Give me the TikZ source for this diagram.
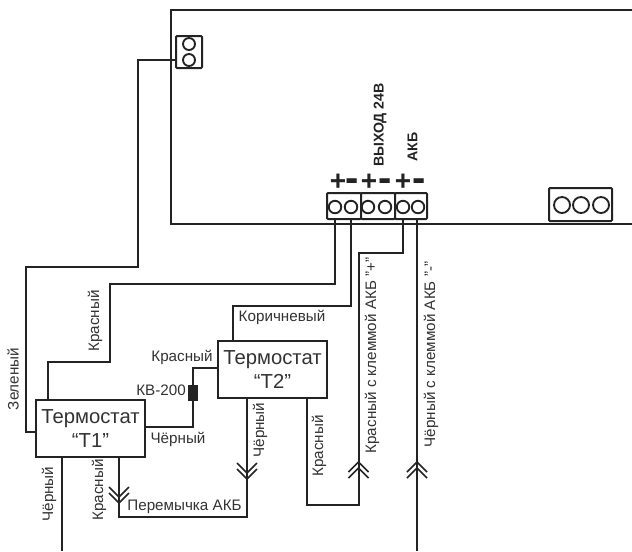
\documentclass[tikz,border=0pt]{standalone}
\usepackage{fontspec}
\setmainfont{Liberation Sans}
\definecolor{ink}{HTML}{232323}
\definecolor{txt}{HTML}{333333}
\tikzset{
  x=0.75pt,y=-0.75pt,
  wire/.style={draw=ink,line width=1.5pt,line join=miter},
  thinwire/.style={draw=ink,line width=1.35pt},
  term/.style={circle,draw=ink,line width=1.4pt,inner sep=0pt,minimum size=#1*0.75pt},
  block/.style={rectangle,draw=ink,line width=1.5pt,inner sep=0pt,rounded corners=0.8pt},
  thermo/.style={rectangle,draw=ink,line width=1.6pt,inner sep=0pt,fill=white,align=center,font=\fontsize{15.2}{17.5}\selectfont,text=txt},
  lbl/.style={inner sep=0pt,text=txt,font=\fontsize{11.4}{13}\selectfont},
  vlbl/.style={lbl,rotate=90},
  head/.style={inner sep=0pt,text=ink,rotate=90,font=\fontsize{10.6}{12}\bfseries\selectfont},
  sign/.style={inner sep=0pt,text=ink,font=\fontsize{21}{21}\bfseries\selectfont},
  dsign/.style={inner sep=0pt,text=ink,font=\fontsize{30}{30}\bfseries\selectfont},
  chev/.style={draw=ink,line width=1.3pt}
}
\begin{document}
\begin{tikzpicture}
\useasboundingbox (0,0) rectangle (632,551);
\fill[white] (0,0) rectangle (632,551);
% board
\coordinate (bTR) at (632,10);
\coordinate (bTL) at (171,10);
\coordinate (bBL) at (171,224);
\coordinate (bBR) at (632,224);
\draw[wire] (bTR) -- (bTL) -- (bBL) -- (bBR);
% terminal blocks
\node[block,fill=white,minimum width=26*0.75pt,minimum height=32*0.75pt] (top) at (189,52) {};
\node[term=12] (top1) at (189,44) {};
\node[term=12] (top2) at (189,60) {};
\node[block,fill=white,minimum width=34*0.75pt,minimum height=26*0.75pt] (k1) at (344,206) {};
\node[block,fill=white,minimum width=34*0.75pt,minimum height=26*0.75pt] (k2) at (378,206) {};
\node[block,fill=white,minimum width=32*0.75pt,minimum height=26*0.75pt] (k3) at (411,206) {};
\node[term=12.5] (c1) at (335,207) {};
\node[term=12.5] (c2) at (351,207) {};
\node[term=12.5] (c3) at (368,207) {};
\node[term=12.5] (c4) at (385,207) {};
\node[term=12.5] (c5) at (403,207) {};
\node[term=12.5] (c6) at (418,207) {};
\node[block,fill=white,minimum width=63*0.75pt,minimum height=33*0.75pt] (r) at (580.5,204.5) {};
\node[term=16] (r1) at (562,205) {};
\node[term=16] (r2) at (581,205) {};
\node[term=16] (r3) at (601,205) {};
% thermostats
\node[thermo,minimum width=109*0.75pt,minimum height=57*0.75pt] (T1) at (90.5,428.5) {Термостат\\“T1”};
\node[thermo,minimum width=109*0.75pt,minimum height=57*0.75pt] (T2) at (272.5,369.5) {Термостат\\“T2”};
\node[fill=ink,inner sep=0pt,minimum width=10*0.75pt,minimum height=16*0.75pt] (kv) at (193,393) {};
% free ends
\coordinate (eT1b) at (62,551);
\coordinate (eAkb) at (417,551);
% wires
\draw[thinwire] (top.west |- top2) -- (138,60) -- (138,267) -- (26,267) -- (26,432) -- (T1.west |- 0,432);
\draw[wire] (c1 |- k1.south) -- (335,284) -- (110,284) -- (110,362) -- (48,362) -- (48,400);
\draw[wire] (c2 |- k1.south) -- (351,306) -- (232.5,306) -- (232.5,341);
\draw[wire] (403,219) -- (403,253) -- (358.5,253) -- (358.5,505) -- (307,505) -- (307,398);
\draw[wire] (417,219) -- (eAkb);
\draw[wire] (145,427) -- (193,427) -- (kv.south);
\draw[wire] (kv.north) -- (193,368) -- (218,368);
\draw[wire] (62,457) -- (eT1b);
\draw[wire] (119,457) -- (119,517) -- (247,517) -- (247,398);
% chevrons
\foreach \xx/\yy/\d in {119/497/-1,119/503/-1,247/473/-1,247/479/-1,358.5/462/1,358.5/468/1,417/462/1,417/468/1}{
  \draw[chev] (\xx-10,\yy+\d*10) -- (\xx,\yy) -- (\xx+10,\yy+\d*10);
}
% signs
\node[sign] (s1) at (338,182) {+};
\node[dsign] (s2) at (352.5,185.5) {-};
\node[sign] (s3) at (369,182) {+};
\node[dsign] (s4) at (385,185.5) {-};
\node[sign] (s5) at (403,182) {+};
\node[dsign] (s6) at (419,185.5) {-};
% headings
\node[head] (h1) at (380,125) {ВЫХОД 24В};
\node[head] (h2) at (412.5,147) {АКБ};
% labels
\node[vlbl] (l1) at (13,379) {Зеленый};
\node[vlbl] (l2) at (95,321) {Красный};
\node[lbl] (l3) at (182,357) {Красный};
\node[lbl] (l4) at (161,390) {КВ-200};
\node[lbl] (l5) at (178,439) {Чёрный};
\node[vlbl] (l6) at (49,494) {Чёрный};
\node[vlbl] (l7) at (99,490) {Красный};
\node[lbl] (l8) at (184.5,507) {Перемычка АКБ};
\node[vlbl] (l9) at (260,430) {Чёрный};
\node[lbl] (l10) at (282,317) {Коричневый};
\node[vlbl] (l11) at (319,446) {Красный};
\node[vlbl] (l12) at (372,355.5) {Красный с клеммой АКБ "+"};
\node[vlbl] (l13) at (431,354.5) {Чёрный с клеммой АКБ "-"};
\end{tikzpicture}
\end{document}
